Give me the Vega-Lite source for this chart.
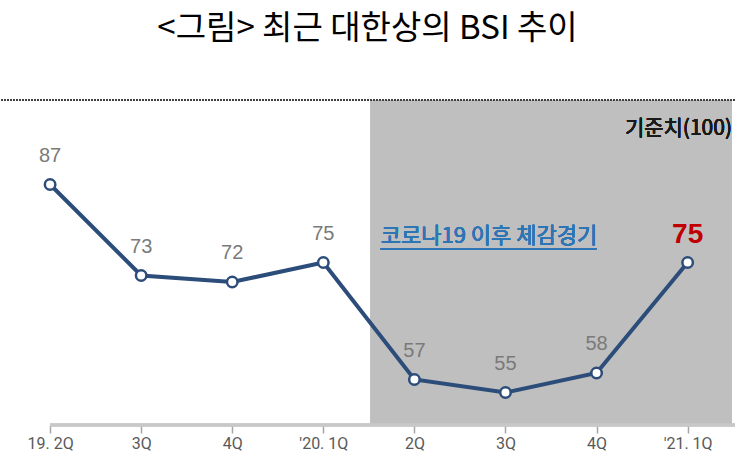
{
  "$schema": "https://vega.github.io/schema/vega-lite/v6.json",
  "width": 735,
  "height": 325,
  "autosize": "none",
  "padding": {"top": 100, "left": 0, "right": 0, "bottom": 47},
  "background": "white",
  "title": {
    "text": "<그림> 최근 대한상의 BSI 추이",
    "font": "Noto Sans CJK KR",
    "fontSize": 33,
    "fontWeight": "normal",
    "color": "#000000",
    "anchor": "middle",
    "offset": 53,
    "frame": "group"
  },
  "config": {
    "view": {"stroke": null},
    "font": "Noto Sans CJK KR"
  },
  "data": {
    "values": [
      {"i": 0, "q": "19. 2Q", "bsi": 87},
      {"i": 1, "q": "3Q", "bsi": 73},
      {"i": 2, "q": "4Q", "bsi": 72},
      {"i": 3, "q": "'20. 1Q", "bsi": 75},
      {"i": 4, "q": "2Q", "bsi": 57},
      {"i": 5, "q": "3Q", "bsi": 55},
      {"i": 6, "q": "4Q", "bsi": 58},
      {"i": 7, "q": "'21. 1Q", "bsi": 75}
    ]
  },
  "encoding": {
    "x": {
      "field": "i",
      "type": "quantitative",
      "scale": {"domain": [-0.55, 7.52], "nice": false, "zero": false},
      "axis": {
        "title": null,
        "grid": false,
        "domain": false,
        "values": [0, 1, 2, 3, 4, 5, 6, 7],
        "labelExpr": "['19. 2Q','3Q','4Q','\\'20. 1Q','2Q','3Q','4Q','\\'21. 1Q'][datum.value]",
        "tickColor": "#a6a6a6",
        "tickSize": 8,
        "tickWidth": 1.5,
        "labelFont": "Roboto",
        "labelFontSize": 16,
        "labelColor": "#595959",
        "labelPadding": 2
      }
    },
    "y": {
      "field": "bsi",
      "type": "quantitative",
      "scale": {"domain": [50, 100], "nice": false, "zero": false},
      "axis": null
    }
  },
  "layer": [
    {
      "mark": {"type": "rect", "color": "#bfbfbf"},
      "encoding": {
        "x": {"datum": 3.52},
        "x2": {"datum": 7.48},
        "y": {"datum": 100},
        "y2": {"datum": 50}
      }
    },
    {
      "mark": {"type": "rule", "color": "#404040", "strokeWidth": 2, "strokeDash": [1.5, 1.5]},
      "encoding": {"y": {"datum": 100}, "x": null}
    },
    {
      "mark": {"type": "rule", "color": "#c8c8c8", "strokeWidth": 2.5},
      "encoding": {"x": {"datum": 0}, "x2": {"datum": 7.52}, "y": {"datum": 50}}
    },
    {
      "mark": {"type": "line", "color": "#2c4d7a", "strokeWidth": 4}
    },
    {
      "mark": {"type": "point", "shape": "circle", "filled": true, "fill": "white", "stroke": "#2c4d7a", "strokeWidth": 2.5, "size": 110, "opacity": 1}
    },
    {
      "transform": [{"filter": "datum.i < 7"}],
      "mark": {"type": "text", "dy": -29, "fontSize": 20, "color": "#7a7a7a", "font": "Liberation Sans"},
      "encoding": {"text": {"field": "bsi"}}
    },
    {
      "transform": [{"filter": "datum.i == 7"}],
      "mark": {"type": "text", "dy": -28, "fontSize": 28, "fontWeight": "bold", "color": "#c00000", "font": "Liberation Sans"},
      "encoding": {"text": {"field": "bsi"}}
    },
    {
      "mark": {"type": "text", "text": "기준치(100)", "align": "right", "baseline": "middle", "fontSize": 21, "fontWeight": "normal", "color": "#1a1a1a", "dx": -3, "dy": 29},
      "encoding": {"x": {"datum": 7.52}, "y": {"datum": 100}}
    },
    {
      "mark": {"type": "text", "text": "코로나19 이후 체감경기", "align": "left", "baseline": "middle", "fontSize": 22, "fontWeight": "normal", "color": "#2e75b6"},
      "encoding": {"x": {"datum": 3.63}, "y": {"datum": 79.1}}
    },
    {
      "mark": {"type": "rule", "color": "#2e75b6", "strokeWidth": 1.5},
      "encoding": {"x": {"datum": 3.63}, "x2": {"datum": 6.0}, "y": {"datum": 77.1}}
    }
  ]
}
